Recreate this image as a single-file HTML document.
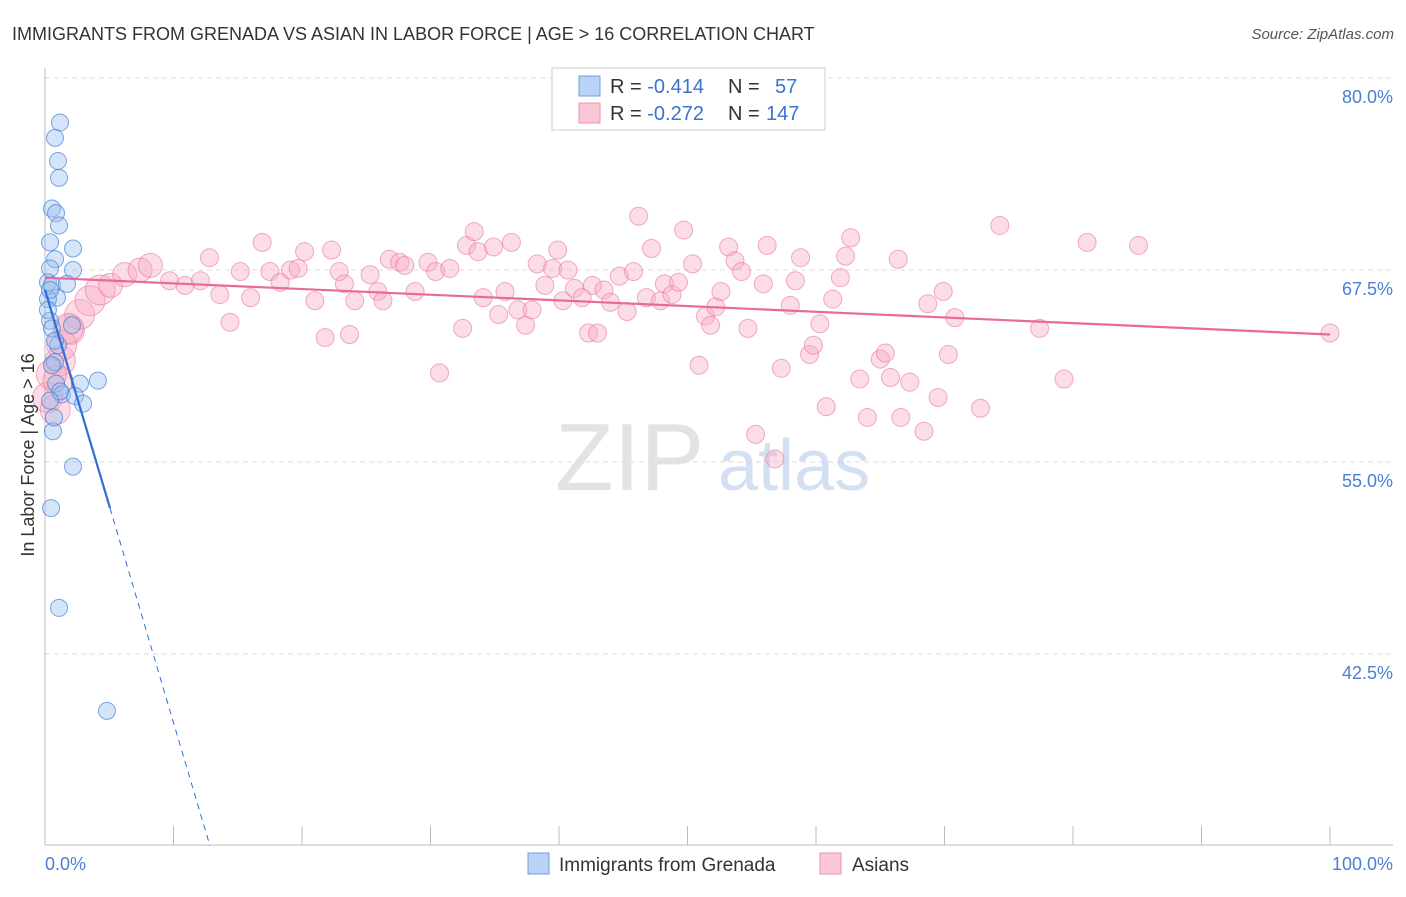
<!DOCTYPE html>
<html><head><meta charset="utf-8"><style>
body{margin:0;background:#fff;font-family:"Liberation Sans",sans-serif}
svg text{font-family:"Liberation Sans",sans-serif}
</style></head><body>
<svg id="c" width="1406" height="892">
<text x="12" y="40" font-size="18" fill="#333">IMMIGRANTS FROM GRENADA VS ASIAN IN LABOR FORCE | AGE &gt; 16 CORRELATION CHART</text>
<text x="1394" y="39" font-size="15" fill="#555" font-style="italic" text-anchor="end">Source: ZipAtlas.com</text>
<g id="grid"></g>
<g><text x="555" y="490" font-size="96" fill="#ddd" font-family="Liberation Serif" opacity="0.8">ZIP</text><text x="718" y="490" font-size="72" fill="#c9d9ef" opacity="0.8">atlas</text></g>
<g id="axes"></g>
<g id="pts"></g>
<g id="trend"></g>
<text transform="translate(34,455) rotate(-90)" font-size="18" fill="#333" text-anchor="middle">In Labor Force | Age &gt; 16</text>
<text x="45" y="870" font-size="18" fill="#4a7fd4">0.0%</text>
<text x="1393" y="870" font-size="18" fill="#4a7fd4" text-anchor="end">100.0%</text>
<g>
<rect x="552" y="68" width="273" height="62" fill="#fff" stroke="#ccc"/>
<rect x="579" y="76" width="21" height="20" fill="#b8d3f5" stroke="#6d9ee0"/>
<rect x="579" y="103" width="21" height="20" fill="#fbc6d5" stroke="#ee93ad"/>
<text x="610" y="93" font-size="20" fill="#333">R = <tspan fill="#3a73d0">-0.414</tspan><tspan x="728">N = </tspan><tspan x="775" fill="#3a73d0">57</tspan></text>
<text x="610" y="120" font-size="20" fill="#333">R = <tspan fill="#3a73d0">-0.272</tspan><tspan x="728">N = </tspan><tspan x="766" fill="#3a73d0">147</tspan></text>
</g>
<g>
<rect x="528" y="853" width="21" height="21" fill="#b8d3f5" stroke="#6d9ee0"/>
<text x="559" y="871" font-size="19" fill="#333">Immigrants from Grenada</text>
<rect x="820" y="853" width="21" height="21" fill="#fbc6d5" stroke="#ee93ad"/>
<text x="852" y="871" font-size="19" fill="#333">Asians</text>
</g>
</svg>
<script>
const yTicks=[80,67.5,55,42.5];
const yTickLabels=["80.0%","67.5%","55.0%","42.5%"];
const blueX=[1.17,0.78,1.01,1.09,0.54,0.86,1.09,0.39,2.18,0.78,0.39,2.18,0.23,0.54,1.71,0.93,0.23,0.39,0.54,2.1,1.01,0.78,0.54,2.72,4.12,0.86,1.32,2.33,2.96,0.62,2.18,0.47,1.09,4.82,0.39,0.23,0.78,1.17,0.39,0.7];
const blueY=[77.1,76.1,74.6,73.5,71.5,71.2,70.4,69.3,68.9,68.2,67.6,67.5,66.7,66.5,66.6,65.7,65.6,64.2,63.7,63.9,62.6,61.5,61.3,60.1,60.3,60.1,59.4,59.3,58.8,57.0,54.7,52.0,45.5,38.8,66.2,64.9,62.9,59.6,59.0,57.9];
const pinkX=[1.2,1.9,2.7,3.5,4.3,5.1,6.2,7.4,8.2,9.7,10.9,12.1,12.8,13.6,14.4,15.2,16.0,16.9,17.5,18.3,19.1,19.7,20.2,21.0,21.8,22.3,22.9,23.3,23.7,24.1,25.3,25.9,26.3,26.8,27.6,28.0,28.8,29.8,30.4,30.7,31.5,32.5,32.8,33.4,33.7,34.1,34.9,35.3,35.8,36.3,36.8,37.4,37.9,38.3,38.9,39.5,39.9,40.3,40.7,41.2,41.8,42.3,42.6,43.0,43.5,44.0,44.7,45.3,45.8,46.2,46.8,47.2,47.9,48.2,48.8,49.3,49.7,50.4,50.9,51.4,51.8,52.2,52.6,53.2,53.7,54.2,54.7,55.3,55.9,56.2,56.8,57.3,58.0,58.4,58.8,59.5,59.8,60.3,60.8,61.3,61.9,62.3,62.7,63.4,64.0,65.0,65.4,65.8,66.4,66.6,67.3,68.4,68.7,69.5,69.9,70.3,70.8,72.8,74.3,77.4,79.3,81.1,85.1,100,0.2,0.8,1.0,1.3,1.8,0.5];
const pinkY=[61.6,63.6,64.6,65.5,66.2,66.5,67.2,67.5,67.8,66.8,66.5,66.8,68.3,65.9,64.1,67.4,65.7,69.3,67.4,66.7,67.5,67.6,68.7,65.5,63.1,68.8,67.4,66.6,63.3,65.5,67.2,66.1,65.5,68.2,68.0,67.8,66.1,68.0,67.4,60.8,67.6,63.7,69.1,70.0,68.7,65.7,69.0,64.6,66.1,69.3,64.9,63.9,64.9,67.9,66.5,67.6,68.8,65.5,67.5,66.3,65.7,63.4,66.5,63.4,66.2,65.4,67.1,64.8,67.4,71.0,65.7,68.9,65.5,66.6,65.9,66.7,70.1,67.9,61.3,64.5,63.9,65.1,66.1,69.0,68.1,67.4,63.7,56.8,66.6,69.1,55.2,61.1,65.2,66.8,68.3,62.0,62.6,64.0,58.6,65.6,67.0,68.4,69.6,60.4,57.9,61.7,62.1,60.5,68.2,57.9,60.2,57.0,65.3,59.2,66.1,62.0,64.4,58.5,70.4,63.7,60.4,69.3,69.1,63.4,59.2,58.4,60.3,62.6,63.7,60.7];
const blueTrend=[[0,66.2],[5.06,52.0],[12.84,30.0]];
const pinkTrend=[[0,67.0],[100,63.3]];
const NS="http://www.w3.org/2000/svg";
const X=v=>45+v*12.85, Y=v=>78+(80-v)*15.36;
function mk(t,a,p){const e=document.createElementNS(NS,t);for(const k in a)e.setAttribute(k,a[k]);p.appendChild(e);return e;}
const grid=document.getElementById('grid'),axes=document.getElementById('axes');
yTicks.forEach((t,i)=>{
 const l=mk('line',{x1:45,x2:1393,y1:Y(t),y2:Y(t),stroke:'#ddd','stroke-dasharray':'5,4'},grid);
 
 
 const tx=mk('text',{x:1393,y:Y(t)+25,'font-size':18,fill:'#4a7fd4','text-anchor':'end'},axes);
 tx.textContent=yTickLabels[i];
 
 
});
const ya=mk('line',{x1:45,x2:45,y1:68,y2:845,stroke:'#bbb'},axes);


const xa=mk('line',{x1:45,x2:1393,y1:845,y2:845,stroke:'#bbb'},axes);


for(let p=10;p<=100;p+=10){
 const t=mk('line',{x1:X(p),x2:X(p),y1:826,y2:845,stroke:'#bbb'},axes);
 
 
}
const pts=document.getElementById('pts');
pinkX.forEach((x,i)=>{
 const r=x<4.5?15:(x<8.5?12:9);
 const c=mk('circle',{cx:X(x),cy:Y(pinkY[i]),r:r,fill:'rgba(248,170,195,0.4)',stroke:'rgba(232,120,155,0.6)','stroke-width':1},pts);
 
 
});
blueX.forEach((x,i)=>{
 const c=mk('circle',{cx:X(x),cy:Y(blueY[i]),r:8.5,fill:'rgba(150,190,240,0.4)',stroke:'rgba(60,120,210,0.65)','stroke-width':1},pts);
 
 
});
const tr=document.getElementById('trend');
const b1=mk('line',{x1:X(blueTrend[0][0]),y1:Y(blueTrend[0][1]),x2:X(blueTrend[1][0]),y2:Y(blueTrend[1][1]),stroke:'#2f6fd6','stroke-width':2.2},tr);


const b2=mk('line',{x1:X(blueTrend[1][0]),y1:Y(blueTrend[1][1]),x2:X(blueTrend[2][0]),y2:Y(blueTrend[2][1]),stroke:'#2f6fd6','stroke-width':1,'stroke-dasharray':'6,5'},tr);


const p1=mk('line',{x1:X(pinkTrend[0][0]),y1:Y(pinkTrend[0][1]),x2:X(pinkTrend[1][0]),y2:Y(pinkTrend[1][1]),stroke:'#e8699a','stroke-width':2.2},tr);


</script>
</body></html>
